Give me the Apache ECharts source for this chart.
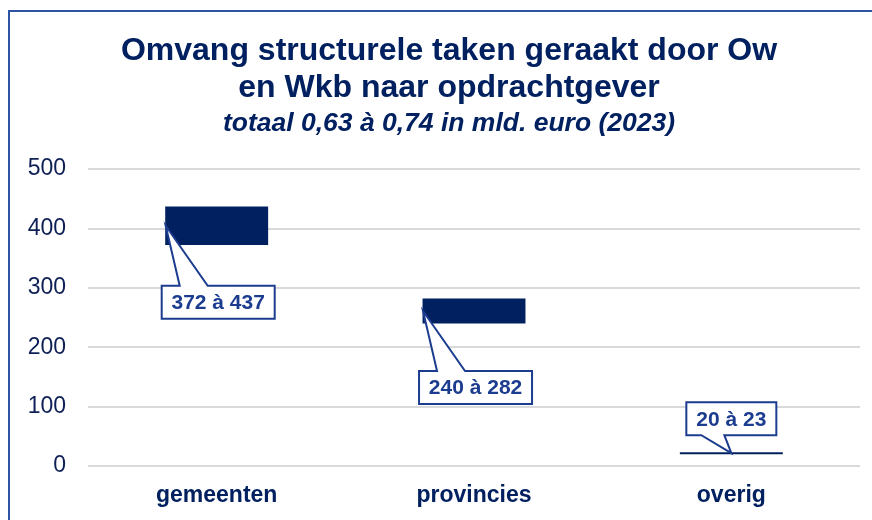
<!DOCTYPE html>
<html><head><meta charset="utf-8">
<script src="https://cdn.jsdelivr.net/npm/echarts@6/dist/echarts.min.js"></script>
<style>html,body{margin:0;padding:0;background:#fff}#c{width:872px;height:520px}</style>
</head><body><div id="c"></div>
<script>
const categories = ['gemeenten', 'provincies', 'overig'];
const lowValues = [372, 240, 20];
const highValues = [437, 282, 23];
const rangeLabels = ['372 à 437', '240 à 282', '20 à 23'];
const yTicks = [0, 100, 200, 300, 400, 500];
const titleLines = ['Omvang structurele taken geraakt door Ow', 'en Wkb naar opdrachtgever'];
const subtitleText = 'totaal 0,63 à 0,74 in mld. euro (2023)';

const NAVY = '#002060';
const CALLOUT = '#1C3D8F';
const FONT = '"Liberation Sans", Arial, sans-serif';
const calloutFont = 'bold 21px ' + FONT;
const mctx = document.createElement('canvas').getContext('2d');
function textW(t) { mctx.font = calloutFont; return mctx.measureText(t).width; }

const barData = categories.map((c, i) => [i, lowValues[i], highValues[i]]);

const chart = echarts.init(document.getElementById('c'), null, { renderer: 'canvas' });

function renderBar(params, api) {
  const i = api.value(0), lo = api.value(1), hi = api.value(2);
  const bw = api.size([1, 0])[0] * 0.4;
  const pHi = api.coord([i, hi]);
  const pLo = api.coord([i, lo]);
  return {
    type: 'rect',
    shape: { x: pHi[0] - bw / 2, y: pHi[1], width: bw, height: Math.max(pLo[1] - pHi[1], 2) },
    style: { fill: NAVY }
  };
}

function renderCallout(params, api) {
  const i = api.value(0), lo = api.value(1), hi = api.value(2);
  const text = rangeLabels[params.dataIndex];
  const bw = api.size([1, 0])[0] * 0.4;
  const mid = api.coord([i, (lo + hi) / 2]);
  const cs = params.coordSys;
  const w = Math.round(textW(text) + 20), h = 33;
  const nearBase = mid[1] > cs.y + cs.height - 60;
  let pts, tx, ty;
  if (!nearBase) {
    const tip = [mid[0] - bw / 2 + 0.5, mid[1]];
    const L = tip[0] - 4, T = tip[1] + 60;
    pts = [tip, [L + 46, T], [L + w, T], [L + w, T + h], [L, T + h], [L, T], [L + 18, T]];
    tx = L + w / 2; ty = T + h / 2;
  } else {
    const tip = [mid[0], mid[1]];
    const L = tip[0] - w / 2, B = tip[1] - 18;
    pts = [tip, [L + 15, B], [L, B], [L, B - h], [L + w, B - h], [L + w, B], [L + 38, B]];
    tx = L + w / 2; ty = B - h / 2;
  }
  return {
    type: 'group',
    children: [
      { type: 'polygon', shape: { points: pts }, style: { fill: '#fff', stroke: CALLOUT, lineWidth: 2 } },
      { type: 'text', x: tx, y: ty + 1, style: { text: text, font: calloutFont, fill: CALLOUT, align: 'center', verticalAlign: 'middle' } }
    ]
  };
}

const option = {
  animation: false,
  backgroundColor: '#fff',
  grid: { left: 88, right: 12, top: 169, bottom: 54 },
  xAxis: {
    type: 'category', data: categories,
    axisLine: { show: false }, axisTick: { show: false },
    axisLabel: { color: NAVY, fontFamily: FONT, fontWeight: 'bold', fontSize: 23, margin: 18 }
  },
  yAxis: {
    type: 'value', min: yTicks[0], max: yTicks[yTicks.length - 1], interval: yTicks[1] - yTicks[0],
    axisLine: { show: false }, axisTick: { show: false },
    splitLine: { lineStyle: { color: '#d9d9d9', width: 2 } },
    axisLabel: { color: '#0d1f55', fontFamily: FONT, fontSize: 23, margin: 22 }
  },
  graphic: [
    { type: 'rect', silent: true, z: -10, shape: { x: 9, y: 11, width: 900, height: 600 },
      style: { fill: 'none', stroke: '#2E54A5', lineWidth: 2 } },
    { type: 'text', silent: true, x: 449, y: 51,
      style: { text: titleLines[0], fill: NAVY, font: 'bold 32px ' + FONT, align: 'center', verticalAlign: 'middle' } },
    { type: 'text', silent: true, x: 449, y: 88,
      style: { text: titleLines[1], fill: NAVY, font: 'bold 32px ' + FONT, align: 'center', verticalAlign: 'middle' } },
    { type: 'text', silent: true, x: 449, y: 124,
      style: { text: subtitleText, fill: NAVY, font: 'italic bold 26.5px ' + FONT, align: 'center', verticalAlign: 'middle' } }
  ],
  series: [
    { type: 'custom', data: barData, renderItem: renderBar, z: 2 },
    { type: 'custom', data: barData, renderItem: renderCallout, z: 3 }
  ]
};
chart.setOption(option);
</script>
</body></html>
